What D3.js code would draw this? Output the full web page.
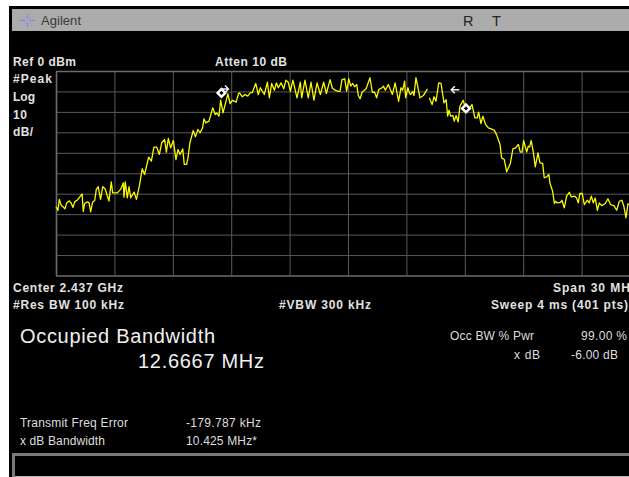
<!DOCTYPE html>
<html><head><meta charset="utf-8">
<script src="https://cdn.jsdelivr.net/npm/d3@7/dist/d3.min.js"></script>
<style>html,body{margin:0;padding:0;background:#fff;overflow:hidden}svg{display:block}text{font-family:"Liberation Sans",Arial,sans-serif}</style>
</head><body><svg id="c" width="629" height="477"></svg>
<script>
// MHz from the left edge of the 30 MHz span; null level = gap in the sweep
const traceMHz = [0,.03,.10,.17,.27,.36,.46,.55,.68,.79,.87,.96,1.13,1.34,1.40,1.47,1.61,1.70,1.78,1.88,1.99,2.07,2.17,2.29,2.40,2.52,2.72,2.84,2.91,3.15,3.32,3.46,3.49,3.56,3.66,3.75,3.84,4.01,4.13,4.28,4.43,4.55,4.76,4.90,5.03,5.17,5.31,5.43,5.58,5.67,5.77,5.89,6.03,6.16,6.27,6.37,6.51,6.59,6.71,6.78,6.88,7.05,7.16,7.29,7.40,7.53,7.60,7.69,7.86,8.05,8.18,8.25,8.37,8.46,8.58,8.83,8.94,9.07,9.25,9.38,9.43,9.57,9.71,9.85,9.98,10.09,10.26,10.39,10.50,10.70,10.86,10.96,11.08,11.22,11.32,11.42,11.56,11.70,11.81,11.93,12.04,12.17,12.38,12.55,12.62,12.79,12.96,13.10,13.25,13.41,13.58,13.75,13.89,14.08,14.19,14.33,14.50,14.59,14.69,14.83,14.93,15.04,15.14,15.24,15.34,15.45,15.53,15.62,15.72,15.93,16.13,16.25,16.37,16.47,16.58,16.75,16.82,16.92,17.07,17.28,17.42,17.60,17.72,17.81,17.91,17.96,18.08,18.15,18.22,18.32,18.39,18.49,18.70,18.87,19.08,19.13,19.18,19.32,19.42,19.52,19.66,19.78,19.93,20.04,20.12,20.19,20.27,20.39,20.46,20.55,20.66,20.75,20.92,21.04,21.21,21.37,21.52,21.64,21.71,21.83,21.93,22.07,22.21,22.51,22.63,22.81,22.89,23.03,23.15,23.34,23.47,23.61,23.75,23.85,23.94,24.02,24.18,24.26,24.33,24.41,24.52,24.62,24.76,24.86,25.00,25.08,25.20,25.32,25.37,25.51,25.60,25.66,25.75,25.92,25.99,26.11,26.23,26.37,26.47,26.64,26.74,26.83,26.91,27.03,27.14,27.29,27.39,27.50,27.60,27.70,27.81,27.91,28.03,28.22,28.35,28.49,28.66,28.80,28.94,29.07,29.17,29.28,29.38,29.45,29.6,30];
const traceDbm = [-66.4,-66.9,-68.2,-62.8,-65.8,-66.4,-67.4,-64.5,-63.5,-64.8,-66.7,-64.0,-62.8,-60.1,-68.7,-64.8,-64.0,-64.5,-68.9,-64.1,-63.3,-57.9,-56.6,-62.8,-56.6,-57.6,-63.6,-54.2,-59.6,-59.6,-57.9,-54.7,-61.7,-54.2,-62.0,-56.6,-62.0,-59.2,-62.8,-56.3,-47.8,-50.6,-42.1,-44.1,-37.2,-37.2,-40.8,-35.1,-33.5,-39.7,-33.0,-37.6,-34.0,-43.3,-38.4,-40.8,-38.1,-45.7,-45.7,-42.5,-35.1,-29.1,-32.2,-28.6,-30.2,-27.8,-23.4,-25.4,-24.5,-18.0,-21.3,-20.5,-22.1,-14.3,-20.5,-11.2,-15.9,-14.3,-15.2,-11.0,-10.7,-12.6,-11.5,-12.3,-10.7,-10.4,-6.1,-11.5,-8.2,-11.5,-5.5,-13.1,-6.1,-9.4,-5.8,-8.2,-5.8,-8.7,-4.5,-5.5,-9.9,-4.5,-13.1,-5.5,-13.1,-4.5,-13.1,-5.5,-14.3,-5.8,-11.5,-5.5,-11.0,-4.2,-8.2,-9.4,-10.0,-9.9,-4.2,-3.8,-9.9,-3.8,-7.4,-6.1,-7.7,-6.6,-12.0,-13.6,-10.4,-8.7,-3.3,-10.4,-10.4,-13.1,-9.1,-8.2,-7.4,-9.4,-6.6,-11.5,-5.8,-14.8,-8.2,-9.4,-5.0,-13.1,-8.2,-10.7,-11.5,-9.9,-12.0,-3.3,-13.1,-12.0,-8.7,null,-13.1,-16.4,-12.6,-14.8,-5.8,-6.1,-15.6,-14.0,-22.1,-19.2,-22.1,-21.8,-24.5,-21.8,-24.9,-17.2,-14.3,-18.8,-18.5,-16.4,-22.9,-22.9,-20.1,-25.7,-22.1,-26.2,-27.8,-28.9,-31.1,-35.9,-42.5,-43.3,-49.3,-45.2,-38.1,-37.6,-35.9,-39.7,-39.7,-34.0,-39.7,-36.8,-37.1,-34.0,-39.7,-46.9,-40.0,-44.9,-45.2,-52.2,-51.8,-50.6,-54.7,-58.8,-64.8,-63.7,-64.5,-64.2,-63.2,-66.9,-61.2,-59.3,-61.6,-61.2,-62.1,-64.5,-59.9,-59.9,-65.3,-63.2,-64.5,-61.2,-64.5,-62.1,-68.1,-64.5,-65.8,-64.8,-62.5,-65.3,-65.8,-68.1,-63.7,-63.2,-66.1,-71.8,-65.0,-65.3,-64.5,-66.0];
const markerMHz = [8.50,21.06];
const markerDbm = [-10.7,-18.3];
const arrowMHz = [20.46,8.50];
const arrowDbm = [-9.2,-8.8];
const dbTicks = [0,-10,-20,-30,-40,-50,-60,-70,-80,-90,-100];
const mhzTicks = [0,3,6,9,12,15,18,21,24,27,30];
const instrumentLabels = [
 ["Ref 0 dBm",13,66,63],["Atten 10 dB",215,66,72],["#Peak",13,83,39],["Log",13,101,22],["10",13,119,14],["dB/",13,136,20],
 ["Center 2.437 GHz",13,292,110],["Span 30 MHz",553,292,84],["#Res BW 100 kHz",13,309,111],["#VBW 300 kHz",279,309,92],["Sweep 4 ms (401 pts)",491,309,137]];
const resultLabels = [
 ["Occupied Bandwidth",20,343,20,195],["12.6667 MHz",138,368,20,126],
 ["Transmit Freq Error",20,427,12,108],["x dB Bandwidth",20,445,12,85],["-179.787 kHz",186,427,12,75],["10.425 MHz*",186,445,12,71],
 ["Occ BW % Pwr",450,340,12,84],["99.00 %",581,340,12,46],["x dB",514,359,12,26],["-6.00 dB",571,359,12,47]];

const svg = d3.select("#c");
svg.append("rect").attr("x",9).attr("y",6).attr("width",620).attr("height",471).attr("fill","#000");
svg.append("rect").attr("x",12).attr("y",9).attr("width",617).attr("height",22).attr("fill","#acacac");
// starburst logo
const logo = svg.append("g").attr("transform","translate(27.5,20.5)");
[[0,6.5,"#7a7ae0"],[45,6,"#9a9ad8"],[90,8,"#7a7ae0"],[135,6,"#9a9ad8"],[22,5,"#a0a0d0"],[68,6,"#a0a0d0"],[112,6,"#a0a0d0"],[158,5,"#a0a0d0"]].forEach(r=>{
 [1,-1].forEach(s=>{const a=r[0]*Math.PI/180;
  logo.append("line").attr("x1",s*1.8*Math.sin(a)).attr("y1",-s*1.8*Math.cos(a)).attr("x2",s*r[1]*Math.sin(a)).attr("y2",-s*r[1]*Math.cos(a)).attr("stroke",r[2]).attr("stroke-width",.8);});
});
svg.append("text").text("Agilent").attr("x",41).attr("y",25).attr("font-size",13).attr("fill","#3a3a3a").attr("textLength",40);
svg.append("text").text("R").attr("x",463).attr("y",26).attr("font-size",14.5).attr("fill","#222");
svg.append("text").text("T").attr("x",492).attr("y",26).attr("font-size",14.5).attr("fill","#222");

const x = d3.scaleLinear().domain([0,30]).range([56,640]);
const y = d3.scaleLinear().domain([0,-100]).range([71,275.5]);
const plot = svg.append("g");
const gridH = plot.append("g").attr("transform","translate(56,0)")
 .call(d3.axisLeft(y).tickValues(dbTicks).tickSize(-584).tickFormat(""));
const gridV = plot.append("g").attr("transform","translate(0,276)")
 .call(d3.axisBottom(x).tickValues(mhzTicks).tickSize(-204.5).tickFormat(""));
plot.selectAll(".domain").remove();
plot.selectAll(".tick line").attr("stroke","#5a5a5a").attr("stroke-width",1);
gridH.selectAll(".tick").filter(d=>d===0||d===-100).select("line").attr("stroke","#6c6c6c").attr("stroke-width",1.4);
gridV.selectAll(".tick").filter(d=>d===0).select("line").attr("stroke","#6c6c6c").attr("stroke-width",1.6);

const line = d3.line().defined(d=>d[1]!==null).x(d=>x(d[0])).y(d=>y(d[1]));
svg.append("path").datum(traceMHz.map((m,i)=>[m,traceDbm[i]])).attr("d",line)
 .attr("fill","none").attr("stroke","#fafa00").attr("stroke-width",1.3).attr("stroke-linejoin","round");

markerMHz.forEach((m,i)=>{
 const g = svg.append("g").attr("transform",`translate(${x(m)},${y(markerDbm[i])})`);
 g.append("path").attr("d",d3.symbol(d3.symbolSquare,62)()).attr("transform","rotate(45)").attr("fill","#fff");
 g.append("path").attr("d",d3.symbol(d3.symbolSquare,9)()).attr("transform","rotate(45)").attr("fill","#000");
});
// delta arrows next to the markers
const arrow = (g,dir)=>g.append("path").attr("d",`M${dir*3.5},-3.5L${dir*7},0L${dir*3.5},3.5M${dir*7},0L${dir*-1},0`)
  .attr("fill","none").attr("stroke","#eee").attr("stroke-width",1.5);
arrow(svg.append("g").attr("transform",`translate(${x(arrowMHz[0])+4},${y(arrowDbm[0])})`),-1);
arrow(svg.append("g").attr("transform",`translate(${x(arrowMHz[1])},${y(arrowDbm[1])})`),1);

const clip = svg.append("g");
clip.selectAll("text.i").data(instrumentLabels).join("text").attr("class","i")
 .text(d=>d[0]).attr("x",d=>d[1]).attr("y",d=>d[2]).attr("font-size",12).attr("font-weight","bold")
 .attr("fill","#e2e2e2").attr("textLength",d=>d[3]);
clip.selectAll("text.r").data(resultLabels).join("text").attr("class","r")
 .text(d=>d[0]).attr("x",d=>d[1]).attr("y",d=>d[2]).attr("font-size",d=>d[3])
 .attr("fill",d=>d[3]>15?"#f0f0f0":"#dedede").attr("textLength",d=>d[4]);

// message box
svg.append("path").attr("d","M13.5,477V454.5H629").attr("fill","none").attr("stroke","#7a7a7a").attr("stroke-width",3);
svg.append("line").attr("x1",15).attr("x2",629).attr("y1",476.5).attr("y2",476.5).attr("stroke","#bbb");
</script></body></html>
